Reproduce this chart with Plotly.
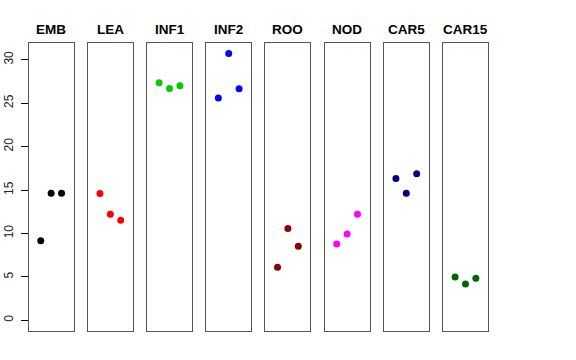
import plotly.graph_objects as go

categories = ["EMB", "LEA", "INF1", "INF2", "ROO", "NOD", "CAR5", "CAR15"]
colors = ["#000000", "#FF0000", "#00CD00", "#0000FF", "#8B0000", "#FF00FF", "#00008B", "#006400"]
replicates = [1, 2, 3]
values = [
    [9.17, 14.63, 14.63],
    [14.60, 12.20, 11.52],
    [27.35, 26.70, 27.00],
    [25.58, 30.73, 26.66],
    [6.11, 10.56, 8.53],
    [8.79, 9.95, 12.22],
    [16.32, 14.63, 16.86],
    [4.99, 4.18, 4.84],
]
y_ticks = [0, 5, 10, 15, 20, 25, 30]

W, H = 576, 360
left0, step, pw = 28.7, 59.19, 44.9
top_px, bot_px = 42.7, 331.0
title_px = 29.5
ymax = max(max(v) for v in values)
ext = 0.04 * ymax
yrange = [0 - ext, ymax + ext]
xrange = [0 - 0.16, 4 + 0.16]

fig = go.Figure()
layout = dict(
    width=W, height=H, margin=dict(l=0, r=0, t=0, b=0, autoexpand=False),
    paper_bgcolor="white", plot_bgcolor="white", showlegend=False,
    font=dict(family="Liberation Sans, Arial, sans-serif", color="black"),
)
annotations = []
for i, (cat, col, vals) in enumerate(zip(categories, colors, values)):
    xa = "x" if i == 0 else f"x{i+1}"
    ya = "y" if i == 0 else f"y{i+1}"
    fig.add_trace(go.Scatter(
        x=replicates, y=vals, xaxis=xa, yaxis=ya, mode="markers",
        marker=dict(color=col, size=7, line=dict(width=0)),
        hoverinfo="skip",
    ))
    l = left0 + step * i
    dom_x = [l / W, (l + pw) / W]
    dom_y = [(H - bot_px) / H, (H - top_px) / H]
    xkey = "xaxis" if i == 0 else f"xaxis{i+1}"
    ykey = "yaxis" if i == 0 else f"yaxis{i+1}"
    layout[xkey] = dict(
        domain=dom_x, range=xrange, showgrid=False, zeroline=False,
        showticklabels=False, ticks="", showline=True, mirror=True,
        linecolor="#555555", linewidth=1, anchor=ya, fixedrange=True,
        automargin=False,
    )
    ydict = dict(
        domain=dom_y, range=yrange, showgrid=False, zeroline=False,
        showline=True, mirror=True, linecolor="#555555", linewidth=1,
        anchor=xa, fixedrange=True, automargin=False,
    )
    if i == 0:
        ydict.update(
            tickmode="array", tickvals=y_ticks, ticktext=[str(t) for t in y_ticks],
            ticks="outside", ticklen=7, tickcolor="black", tickwidth=1,
            tickangle=-90, tickfont=dict(size=12, color="#222222"),
            showticklabels=True, ticklabelstandoff=3,
        )
    else:
        ydict.update(showticklabels=False, ticks="")
    layout[ykey] = ydict
    annotations.append(dict(
        text=f"<b>{cat}</b>", x=(l + pw / 2) / W, y=(H - title_px) / H,
        xref="paper", yref="paper", xanchor="center", yanchor="middle",
        showarrow=False, font=dict(size=13.5, color="black"),
    ))
layout["annotations"] = annotations
fig.update_layout(**layout)
fig.write_html(
    "out.html",
    config={"displayModeBar": False},
    post_script="document.body.style.margin='0';document.documentElement.style.overflow='hidden';",
)
